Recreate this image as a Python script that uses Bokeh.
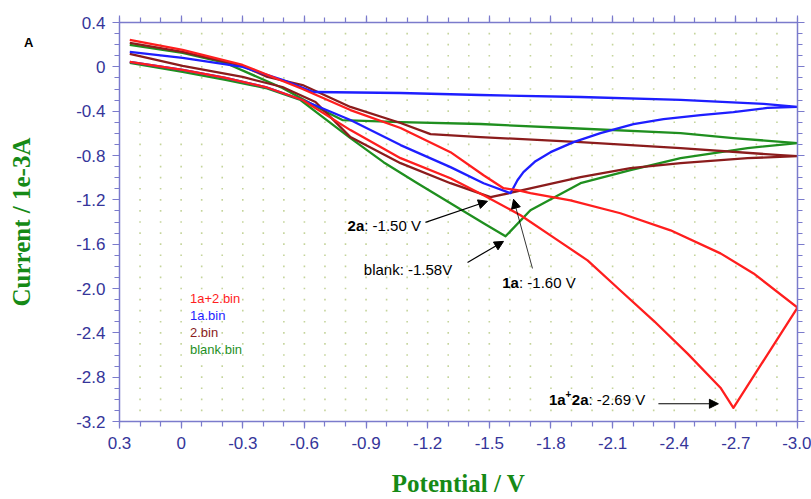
import numpy as np
from bokeh.plotting import figure
from bokeh.models import (Range1d, FixedTicker, LinearAxis, Legend, LegendItem,
                          Label, Arrow, NormalHead)
from bokeh.embed import file_html
from bokeh.resources import INLINE

# ---------------- data (potential V, current 1e-3 A) ----------------
red_v = [0.25, -0.007, -0.216, -0.411, -0.591, -0.824, -1.068, -1.311, -1.472, -1.652, -1.812,
         -1.978, -2.138, -2.299, -2.465, -2.625, -2.688, -3.0, -2.786, -2.625, -2.382, -2.138,
         -1.895, -1.700, -1.637, -1.569, -1.472, -1.311, -1.068, -0.824, -0.591, -0.299, -0.007, 0.25]
red_i = [0.045, -0.028, -0.100, -0.182, -0.299, -0.571, -0.824, -1.005, -1.158, -1.339, -1.539,
         -1.746, -2.018, -2.289, -2.588, -2.895, -3.076, -2.172, -1.864, -1.683, -1.475, -1.321,
         -1.204, -1.140, -1.113, -1.095, -0.978, -0.770, -0.552, -0.390, -0.200, 0.017, 0.153, 0.244]

blue_v = [0.25, -0.007, -0.216, -0.411, -0.591, -0.824, -1.068, -1.311, -1.472, -1.603, -1.637,
          -1.666, -1.725, -1.798, -1.910, -2.041, -2.202, -2.348, -2.528, -2.688, -2.854, -3.0,
          -2.835, -2.431, -1.944, -1.457, -1.068, -0.644, -0.493, -0.299, -0.007, 0.25]
blue_i = [0.045, -0.028, -0.100, -0.182, -0.299, -0.480, -0.706, -0.905, -1.050, -1.140, -1.023,
          -0.950, -0.851, -0.770, -0.679, -0.598, -0.516, -0.471, -0.435, -0.408, -0.371, -0.362,
          -0.335, -0.299, -0.272, -0.254, -0.236, -0.227, -0.118, -0.001, 0.081, 0.135]

brown_v = [0.25, -0.007, -0.299, -0.493, -0.654, -0.824, -1.068, -1.311, -1.506, -1.618, -1.944,
           -2.187, -2.431, -2.757, -3.0, -2.917, -2.431, -1.944, -1.457, -1.214, -1.068, -0.824,
           -0.591, -0.420, -0.299, -0.007, 0.25]
brown_i = [0.117, 0.008, -0.091, -0.182, -0.317, -0.634, -0.869, -1.050, -1.176, -1.131, -0.996,
           -0.914, -0.869, -0.824, -0.806, -0.797, -0.733, -0.679, -0.634, -0.607, -0.507, -0.362,
           -0.164, -0.091, 0.008, 0.135, 0.216]

green_v = [0.25, -0.007, -0.216, -0.411, -0.581, -0.664, -0.824, -0.985, -1.150, -1.311, -1.472,
           -1.579, -1.700, -1.944, -2.187, -2.431, -2.757, -3.0, -2.688, -2.431, -1.880, -1.457,
           -1.068, -0.785, -0.688, -0.493, -0.216, -0.007, 0.25]
green_i = [0.035, -0.046, -0.118, -0.191, -0.299, -0.417, -0.643, -0.860, -1.050, -1.231, -1.412,
           -1.529, -1.294, -1.050, -0.932, -0.824, -0.733, -0.688, -0.643, -0.598, -0.552, -0.516,
           -0.498, -0.480, -0.390, -0.191, 0.035, 0.126, 0.198]

series_names = ["1a+2.bin", "1a.bin", "2.bin", "blank.bin"]
series_colors = ["#ff1e1e", "#1e1eff", "#8b1c1c", "#1f8f1f"]

x_ticks = [0.3, 0.0, -0.3, -0.6, -0.9, -1.2, -1.5, -1.8, -2.1, -2.4, -2.7, -3.0]
x_tick_labels = ["0.3", "0", "-0.3", "-0.6", "-0.9", "-1.2", "-1.5", "-1.8", "-2.1", "-2.4", "-2.7", "-3.0"]
y_ticks = [0.4, 0.0, -0.4, -0.8, -1.2, -1.6, -2.0, -2.4, -2.8, -3.2]
y_tick_labels = ["0.4", "0", "-0.4", "-0.8", "-1.2", "-1.6", "-2.0", "-2.4", "-2.8", "-3.2"]
x_minor = [round(0.3 - 0.1 * k, 1) for k in range(34)]
y_minor = [round(0.4 - 0.1 * k, 1) for k in range(37)]

# annotations: anchors and arrows (tail -> head), in data units
ann_2a = (-0.810, -1.430)
ann_blank = (-0.889, -1.828)
ann_1a = (-1.563, -1.943)
ann_1a2a = (-1.790, -2.997)
arrows = [(-1.189, -1.403, -1.491, -1.213),
          (-1.394, -1.765, -1.569, -1.575),
          (-1.710, -1.819, -1.618, -1.195),
          (-2.323, -3.040, -2.615, -3.040)]
panel_label = "A"
panel_label_y = 0.216

# ---------------- figure ----------------
AXC = "#7b7bcc"
TXC = "#35359a"
LABC = "#168a16"
SANS = "Liberation Sans"

p = figure(frame_width=678, frame_height=399,
           x_range=Range1d(0.3, -3.0), y_range=Range1d(-3.2, 0.4),
           output_backend="svg", toolbar_location=None,
           min_border_left=119, min_border_right=14, min_border_top=22, min_border_bottom=78)
p.outline_line_color = None
p.xgrid.visible = False
p.ygrid.visible = False

# dotted grid
gx, gy = np.meshgrid(np.round(np.arange(-2.9, 0.25, 0.1), 2), np.round(np.arange(-3.1, 0.35, 0.1), 2))
p.scatter(gx.ravel(), gy.ravel(), marker="square", size=1.6, fill_color="#c4d49a",
          line_color=None)

xt = FixedTicker(ticks=x_ticks, minor_ticks=x_minor)
yt = FixedTicker(ticks=y_ticks, minor_ticks=y_minor)


def style_axis(ax, ticker, labels):
    ax.ticker = ticker
    ax.axis_line_color = AXC
    ax.axis_line_width = 1.5
    ax.major_tick_line_color = AXC
    ax.minor_tick_line_color = AXC
    ax.major_tick_in = 0
    ax.major_tick_out = 7
    ax.minor_tick_in = 0
    ax.minor_tick_out = 5
    ax.major_tick_line_width = 1.2
    ax.minor_tick_line_width = 1.2
    ax.major_label_overrides = dict(zip(ticker.ticks, labels))
    ax.major_label_text_font = SANS
    ax.major_label_text_font_size = "17px"
    ax.major_label_text_color = TXC


xa = p.xaxis[0]
ya = p.yaxis[0]
style_axis(xa, xt, x_tick_labels)
style_axis(ya, yt, y_tick_labels)
xa.major_label_standoff = 8
ya.major_label_standoff = 7
xa.axis_label = "Potential / V"
xa.axis_label_text_font = "Liberation Serif"
xa.axis_label_text_font_style = "bold"
xa.axis_label_text_font_size = "25px"
xa.axis_label_text_color = LABC
xa.axis_label_standoff = 18

# outer left axis: carries the panel letter "A" and the y-axis title
outer = LinearAxis(ticker=FixedTicker(ticks=[panel_label_y], minor_ticks=[]),
                   major_label_overrides={panel_label_y: panel_label})
outer.axis_line_color = None
outer.major_tick_line_color = None
outer.major_tick_out = 0
outer.major_tick_in = 0
outer.minor_tick_out = 0
outer.minor_tick_in = 0
outer.major_label_standoff = 40
outer.major_label_text_font = SANS
outer.major_label_text_font_size = "13px"
outer.major_label_text_font_style = "bold"
outer.major_label_text_color = "black"
outer.axis_label = "Current / 1e-3A"
outer.axis_label_text_font = "Liberation Serif"
outer.axis_label_text_font_style = "bold"
outer.axis_label_text_font_size = "25px"
outer.axis_label_text_color = LABC
outer.axis_label_standoff = -14
p.add_layout(outer, "left")

# frame-side axes carrying only tick marks
top = LinearAxis()
style_axis(top, xt, [""] * len(x_ticks))
top.major_label_standoff = 0
p.add_layout(top, "above")
right = LinearAxis()
style_axis(right, yt, [""] * len(y_ticks))
right.major_label_standoff = 0
p.add_layout(right, "right")

# curves
all_v = [red_v, blue_v, brown_v, green_v]
all_i = [red_i, blue_i, brown_i, green_i]
for k in [3, 2, 1, 0]:
    p.line(all_v[k], all_i[k], line_color=series_colors[k], line_width=2.3, line_join="round")

# legends (one per series so each label has its own colour)
for k, (name, col) in enumerate(zip(series_names, series_colors)):
    dummy = p.line([], [], line_color=col, line_width=1.2, line_alpha=0.75)
    lg = Legend(items=[LegendItem(label=name, renderers=[dummy])],
                location=(43, 114.5 - 17 * k), padding=0, margin=0, spacing=0,
                glyph_width=23, glyph_height=17, label_height=17, label_standoff=5,
                label_text_font=SANS, label_text_font_size="13px", label_text_color=col,
                border_line_alpha=0, background_fill_alpha=0)
    p.add_layout(lg, "center")

# annotation texts
FS = "15px"
BW = 16.7  # width of a bold two-character label at 15px


def lab(x, y, text, bold=False, dx=0, dy=0, size=FS):
    p.add_layout(Label(x=x, y=y, text=text, x_offset=dx, y_offset=dy, text_font=SANS,
                       text_font_size=size, text_font_style="bold" if bold else "normal",
                       text_color="black", text_baseline="middle", text_align="left"))


lab(*ann_2a, "2a", bold=True)
lab(*ann_2a, ": -1.50 V", dx=BW)
lab(*ann_blank, "blank: -1.58V")
lab(*ann_1a, "1a", bold=True)
lab(*ann_1a, ": -1.60 V", dx=BW)
lab(*ann_1a2a, "1a", bold=True)
lab(*ann_1a2a, "+", bold=True, dx=BW, dy=5, size="10px")
lab(*ann_1a2a, "2a", bold=True, dx=BW + 6.2)
lab(*ann_1a2a, ": -2.69 V", dx=2 * BW + 6.2)

for k, (x0, y0, x1, y1) in enumerate(arrows):
    lw = 0.8 if k == 2 else 1.2
    p.add_layout(Arrow(end=NormalHead(size=9, fill_color="black", line_color="black"),
                       x_start=x0, y_start=y0, x_end=x1, y_end=y1,
                       line_color="black", line_width=lw))

open("out.html", "w").write(file_html(p, INLINE))
